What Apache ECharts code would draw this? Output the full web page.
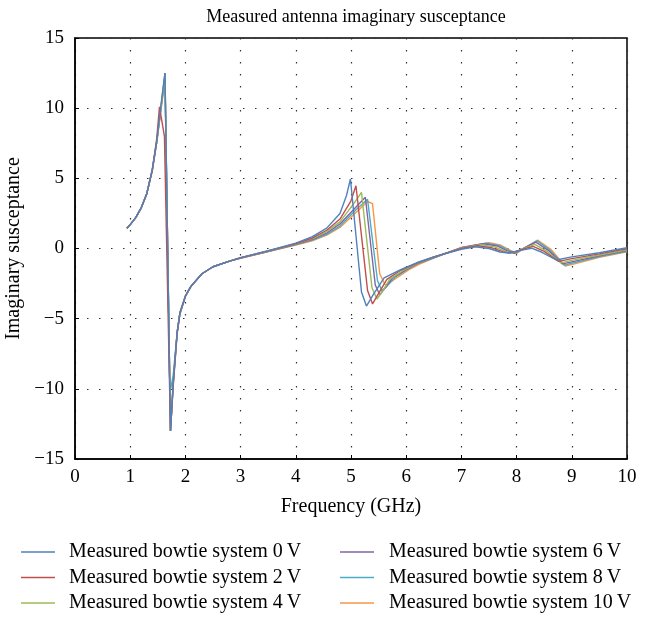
<!DOCTYPE html>
<html>
<head>
<meta charset="utf-8">
<script src="https://cdn.jsdelivr.net/npm/echarts@6/dist/echarts.min.js"></script>
<style>
  html, body { margin: 0; padding: 0; background: #fff; }
  #chart { width: 648px; height: 617px; }
</style>
</head>
<body>
<div id="chart"></div>
<script>
// 测量数据 [频率 GHz, 虚部电纳]
var names = [
  'Measured bowtie system 0\u2009V',
  'Measured bowtie system 2\u2009V',
  'Measured bowtie system 4\u2009V',
  'Measured bowtie system 6\u2009V',
  'Measured bowtie system 8\u2009V',
  'Measured bowtie system 10\u2009V'
];
var colors = ['#4f81bd', '#c0504d', '#9bbb59', '#8064a2', '#4bacc6', '#f79646'];

var v0 = [
  [0.94, 1.45], [1.0, 1.7], [1.1, 2.2], [1.2, 2.9], [1.3, 3.9], [1.4, 5.6], [1.48, 7.6],
  [1.55, 10.0], [1.63, 12.5], [1.73, -13.0], [1.78, -9.5], [1.85, -6.0], [1.9, -4.6],
  [2.0, -3.4], [2.1, -2.7], [2.3, -1.8], [2.5, -1.3], [2.8, -0.9], [3.0, -0.65], [3.5, -0.15],
  [4.0, 0.38], [4.3, 0.85], [4.56, 1.45], [4.8, 2.5], [4.92, 3.8], [4.99, 4.95],
  [5.19, -3.1], [5.28, -4.1], [5.4, -3.3], [5.6, -2.1], [5.9, -1.5], [6.2, -1.0], [6.5, -0.6],
  [7.0, -0.05], [7.25, 0.12], [7.5, 0.0], [7.7, -0.25], [7.85, -0.32], [8.05, -0.15],
  [8.27, 0.02], [8.45, -0.25], [8.72, -0.82], [9.0, -0.6], [9.5, -0.3], [10.0, 0.05]
];
var v2 = [
  [0.94, 1.45], [1.0, 1.7], [1.1, 2.2], [1.2, 2.9], [1.3, 3.9], [1.4, 5.6], [1.48, 7.8],
  [1.53, 10.1], [1.62, 8.0], [1.73, -13.0], [1.78, -9.6], [1.85, -6.0], [1.9, -4.6],
  [2.0, -3.4], [2.1, -2.7], [2.3, -1.8], [2.5, -1.3], [2.8, -0.9], [3.0, -0.66], [3.5, -0.17],
  [4.0, 0.35], [4.3, 0.75], [4.56, 1.3], [4.8, 2.1], [5.0, 3.4], [5.09, 4.47],
  [5.3, -3.0], [5.39, -3.95], [5.5, -3.2], [5.65, -2.2], [5.9, -1.55], [6.2, -1.02], [6.5, -0.6],
  [7.0, 0.0], [7.3, 0.2], [7.55, 0.05], [7.75, -0.22], [7.88, -0.33], [8.07, -0.1],
  [8.3, 0.15], [8.5, -0.2], [8.76, -0.92], [9.0, -0.72], [9.5, -0.38], [10.0, -0.02]
];
var v4 = [
  [0.94, 1.45], [1.0, 1.7], [1.1, 2.2], [1.2, 2.9], [1.3, 3.9], [1.4, 5.6], [1.48, 7.6],
  [1.55, 9.8], [1.63, 12.3], [1.73, -13.0], [1.78, -9.6], [1.85, -6.0], [1.9, -4.6],
  [2.0, -3.4], [2.1, -2.7], [2.3, -1.8], [2.5, -1.3], [2.8, -0.9], [3.0, -0.67], [3.5, -0.18],
  [4.0, 0.33], [4.3, 0.7], [4.56, 1.2], [4.8, 1.9], [5.05, 3.2], [5.19, 4.0],
  [5.38, -2.8], [5.47, -3.6], [5.58, -3.0], [5.7, -2.2], [5.95, -1.55], [6.2, -1.05], [6.5, -0.62],
  [7.0, 0.03], [7.35, 0.28], [7.6, 0.12], [7.8, -0.2], [7.92, -0.33], [8.1, -0.05],
  [8.33, 0.3], [8.55, -0.2], [8.8, -1.02], [9.0, -0.85], [9.5, -0.46], [10.0, -0.1]
];
var v6 = [
  [0.94, 1.45], [1.0, 1.7], [1.1, 2.2], [1.2, 2.9], [1.3, 3.9], [1.4, 5.6], [1.48, 7.6],
  [1.55, 9.8], [1.63, 12.5], [1.73, -13.0], [1.78, -9.8], [1.85, -6.1], [1.9, -4.7],
  [2.0, -3.4], [2.1, -2.7], [2.3, -1.8], [2.5, -1.3], [2.8, -0.9], [3.0, -0.68], [3.5, -0.2],
  [4.0, 0.3], [4.3, 0.65], [4.56, 1.1], [4.8, 1.75], [5.1, 3.0], [5.26, 3.65],
  [5.44, -2.6], [5.52, -3.3], [5.62, -2.8], [5.75, -2.1], [6.0, -1.5], [6.2, -1.08], [6.5, -0.64],
  [7.0, 0.05], [7.4, 0.34], [7.65, 0.18], [7.82, -0.15], [7.95, -0.34], [8.12, 0.0],
  [8.35, 0.45], [8.58, -0.15], [8.83, -1.1], [9.0, -0.95], [9.5, -0.52], [10.0, -0.15]
];
var v8 = [
  [0.94, 1.45], [1.0, 1.7], [1.1, 2.2], [1.2, 2.9], [1.3, 3.9], [1.4, 5.6], [1.48, 7.6],
  [1.55, 9.8], [1.63, 12.2], [1.72, -10.3], [1.78, -9.0], [1.85, -6.0], [1.9, -4.6],
  [2.0, -3.4], [2.1, -2.7], [2.3, -1.8], [2.5, -1.3], [2.8, -0.9], [3.0, -0.69], [3.5, -0.21],
  [4.0, 0.28], [4.3, 0.6], [4.56, 1.0], [4.8, 1.6], [5.1, 2.8], [5.3, 3.5],
  [5.48, -2.3], [5.56, -3.0], [5.65, -2.7], [5.8, -2.05], [6.0, -1.55], [6.2, -1.1], [6.5, -0.66],
  [7.0, 0.06], [7.45, 0.38], [7.68, 0.22], [7.85, -0.12], [7.97, -0.35], [8.15, 0.05],
  [8.37, 0.55], [8.6, -0.1], [8.86, -1.18], [9.0, -1.05], [9.5, -0.58], [10.0, -0.2]
];
var v10 = [
  [0.94, 1.45], [1.0, 1.7], [1.1, 2.2], [1.2, 2.9], [1.3, 3.9], [1.4, 5.5], [1.48, 7.5],
  [1.55, 9.6], [1.63, 12.0], [1.73, -13.0], [1.78, -9.4], [1.85, -6.0], [1.9, -4.6],
  [2.0, -3.4], [2.1, -2.7], [2.3, -1.8], [2.5, -1.3], [2.8, -0.9], [3.0, -0.7], [3.5, -0.22],
  [4.0, 0.25], [4.3, 0.55], [4.56, 0.95], [4.8, 1.5], [5.1, 2.6], [5.3, 3.35], [5.39, 3.2],
  [5.52, -1.8], [5.62, -2.6], [5.75, -2.3], [5.9, -1.9], [6.05, -1.5], [6.25, -1.1], [6.5, -0.68],
  [7.0, 0.08], [7.5, 0.42], [7.7, 0.25], [7.87, -0.1], [8.0, -0.35], [8.17, 0.1],
  [8.38, 0.6], [8.62, -0.05], [8.88, -1.25], [9.05, -1.1], [9.5, -0.62], [10.0, -0.23]
];
var seriesData = [v0, v2, v4, v6, v8, v10];

var serif = '"Liberation Serif", "DejaVu Serif", serif';

var series = [];
for (var i = 0; i < seriesData.length; i++) {
  series.push({
    name: names[i],
    type: 'line',
    data: seriesData[i],
    showSymbol: false,
    symbol: 'none',
    lineStyle: { width: 1.4, color: colors[i] },
    itemStyle: { color: colors[i] },
    z: 10 - i
  });
}

var legendCommon = {
  orient: 'vertical',
  icon: 'rect',
  itemWidth: 34,
  itemHeight: 1.5,
  itemGap: 5.5,
  padding: 0,
  height: 76,
  textStyle: {
    fontFamily: serif,
    fontSize: 20,
    color: '#000',
    lineHeight: 20,
    padding: [0, 0, 0, 9]
  }
};

var option = {
  animation: false,
  color: colors,
  title: {
    text: 'Measured antenna imaginary susceptance',
    left: 351,
    top: 3,
    textAlign: 'center',
    textStyle: { fontFamily: serif, fontSize: 18, fontWeight: 'normal', color: '#000' }
  },
  legend: [
    Object.assign({}, legendCommon, {
      left: 21, top: 542,
      data: names.slice(0, 3)
    }),
    Object.assign({}, legendCommon, {
      left: 340, top: 542,
      data: names.slice(3, 6),
      textStyle: Object.assign({}, legendCommon.textStyle, { padding: [0, 0, 0, 10] })
    })
  ],
  grid: {
    left: 75,
    right: 21,
    top: 38,
    bottom: 158,
    outerBoundsMode: 'none',
    show: true,
    borderColor: '#000',
    borderWidth: 1.5
  },
  xAxis: {
    type: 'value',
    min: 0,
    max: 10,
    interval: 1,
    name: 'Frequency (GHz)',
    nameLocation: 'middle',
    nameGap: 38,
    nameTextStyle: { fontFamily: serif, fontSize: 20, color: '#000' },
    axisLine: { onZero: false, lineStyle: { color: '#000', width: 1.5 } },
    axisTick: { inside: true, length: 4, lineStyle: { color: '#000' } },
    axisLabel: { fontFamily: serif, fontSize: 19, color: '#000', margin: 9 },
    splitLine: { lineStyle: { color: '#333', type: [1.5, 10.5], width: 1.2 } }
  },
  yAxis: {
    type: 'value',
    min: -15,
    max: 15,
    interval: 5,
    name: 'Imaginary susceptance',
    nameLocation: 'middle',
    nameGap: 33,
    nameTextStyle: { fontFamily: serif, fontSize: 20, color: '#000' },
    axisLine: { onZero: false, lineStyle: { color: '#000', width: 1.5 } },
    axisTick: { inside: true, length: 4, lineStyle: { color: '#000' } },
    axisLabel: {
      fontFamily: serif, fontSize: 19, color: '#000', margin: 11,
      formatter: function (v) { return String(v).replace('-', '\u2212'); }
    },
    splitLine: { lineStyle: { color: '#333', type: [1.5, 10.5], width: 1.2 } }
  },
  series: series
};

var chart = echarts.init(document.getElementById('chart'));
chart.setOption(option);
</script>
</body>
</html>
